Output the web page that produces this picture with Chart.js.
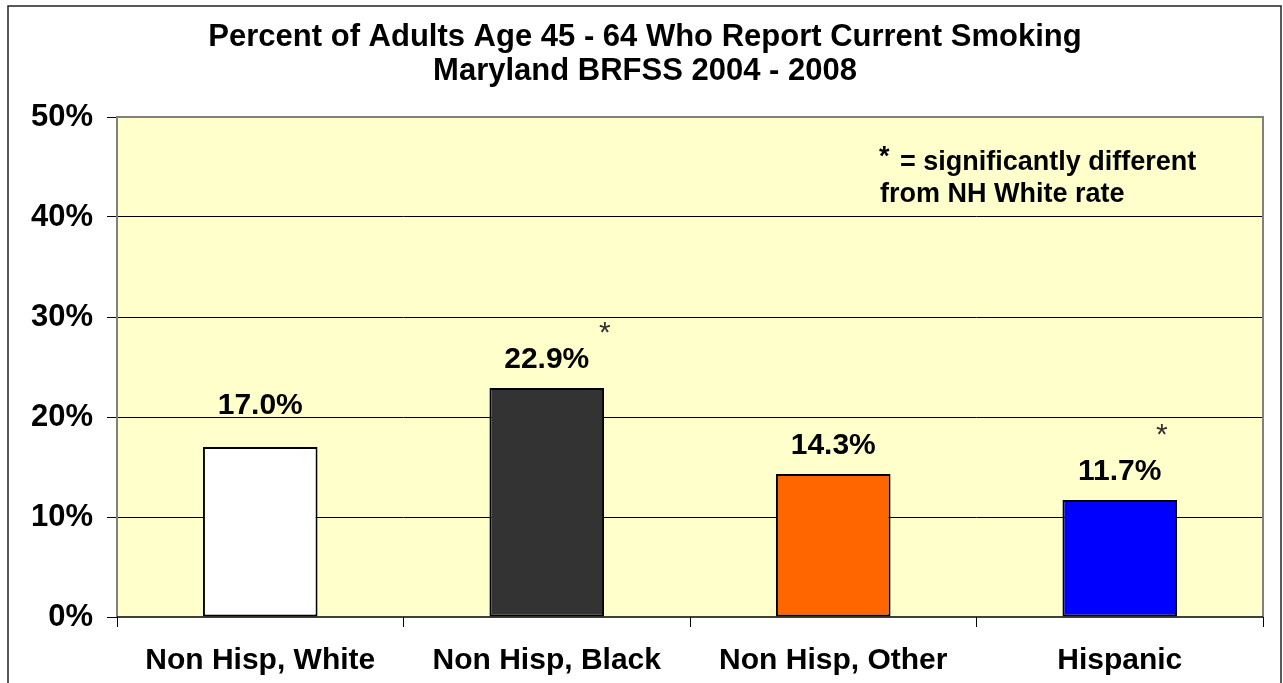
<!DOCTYPE html>
<html>
<head>
<meta charset="utf-8">
<script src="https://cdn.jsdelivr.net/npm/chart.js@4"></script>
<style>
  body { margin: 0; background: #fff; }
  #wrap { width: 1283px; height: 683px; position: relative; }
</style>
</head>
<body>
<div id="wrap"><canvas id="smokingChart"></canvas></div>
<script>
// Dados do gráfico
const categorias = ['Non Hisp, White', 'Non Hisp, Black', 'Non Hisp, Other', 'Hispanic'];
const valores = [17.0, 22.9, 14.3, 11.7];
const significativo = [false, true, false, true];
const coresBarras = ['#FFFFFF', '#333333', '#FF6600', '#0000FF'];
const titulo = ['Percent of Adults Age 45 - 64 Who Report Current Smoking', 'Maryland BRFSS 2004 - 2008'];
const nota = ['= significantly different', 'from NH White rate'];

const FONTE = "'Liberation Sans', Arial, sans-serif";

// moldura, fundo amarelo, título e rótulos
const desenhoExtra = {
    id: 'desenhoExtra',
    beforeDraw(chart) {
        const ctx = chart.ctx;
        const a = chart.chartArea;
        ctx.save();
        ctx.fillStyle = '#fff';
        ctx.fillRect(0, 0, chart.width, chart.height);
        ctx.strokeStyle = '#222';
        ctx.lineWidth = 1.5;
        ctx.strokeRect(8, 6, 1273, 700);
        ctx.fillStyle = '#FFFFCC';
        ctx.fillRect(a.left, a.top, a.right - a.left, a.bottom - a.top);
        ctx.restore();
    },
    afterDatasetsDraw(chart) {
        const ctx = chart.ctx;
        const a = chart.chartArea;
        ctx.save();
        // borda da área do gráfico
        ctx.strokeStyle = '#808080';
        ctx.lineWidth = 2;
        ctx.beginPath();
        ctx.moveTo(a.left, a.bottom);
        ctx.lineTo(a.left, a.top);
        ctx.lineTo(a.right, a.top);
        ctx.lineTo(a.right, a.bottom);
        ctx.stroke();
        ctx.strokeStyle = '#000';
        ctx.lineWidth = 1.5;
        ctx.beginPath();
        ctx.moveTo(a.left, a.bottom);
        ctx.lineTo(a.right, a.bottom);
        ctx.stroke();

        // título
        ctx.fillStyle = '#000';
        ctx.textAlign = 'center';
        ctx.textBaseline = 'alphabetic';
        ctx.font = 'bold 31px ' + FONTE;
        ctx.fillText(titulo[0], 645, 46);
        ctx.fillText(titulo[1], 645, 80);

        // rótulos de valor
        const meta = chart.getDatasetMeta(0);
        const offsetsAst = { 1: [58, 46], 3: [42, 56] };
        meta.data.forEach((bar, i) => {
            ctx.font = 'bold 30px ' + FONTE;
            ctx.fillStyle = '#000';
            ctx.textAlign = 'center';
            ctx.fillText(valores[i].toFixed(1) + '%', bar.x, bar.y - (i === 0 ? 33 : 20));
            if (significativo[i]) {
                const off = offsetsAst[i] || [50, 45];
                ctx.font = '30px ' + FONTE;
                ctx.fillStyle = '#333';
                ctx.fillText('*', bar.x + off[0], bar.y - off[1]);
            }
        });

        // nota
        ctx.fillStyle = '#000';
        ctx.textAlign = 'left';
        ctx.font = 'bold 27px ' + FONTE;
        ctx.fillText('*', 879, 165);
        ctx.fillText(nota[0], 900, 170);
        ctx.fillText(nota[1], 880, 202);
        ctx.restore();
    }
};

new Chart(document.getElementById('smokingChart').getContext('2d'), {
    type: 'bar',
    data: {
        labels: categorias,
        datasets: [{
            data: valores,
            backgroundColor: coresBarras,
            borderColor: '#000',
            borderWidth: 2,
            borderSkipped: false,
            barPercentage: 0.4,
            categoryPercentage: 1.0
        }]
    },
    options: {
        responsive: true,
        maintainAspectRatio: false,
        animation: false,
        layout: { padding: { top: 117, right: 20, left: 0, bottom: 0 } },
        plugins: {
            legend: { display: false },
            title: { display: false },
            tooltip: { enabled: false }
        },
        scales: {
            y: {
                min: 0,
                max: 50,
                afterFit: (s) => { s.width = 117; },
                ticks: {
                    stepSize: 10,
                    padding: 14,
                    color: '#000',
                    font: { family: FONTE, size: 31, weight: 'bold' },
                    callback: (v) => v + '%'
                },
                grid: {
                    color: (c) => (c.tick && c.tick.value > 0 && c.tick.value < 50) ? '#000' : 'rgba(0,0,0,0)',
                    tickColor: '#000',
                    tickLength: 10,
                    lineWidth: 1
                },
                border: { display: false }
            },
            x: {
                afterFit: (s) => { s.height = 66; },
                ticks: {
                    padding: 16,
                    color: '#000',
                    font: { family: FONTE, size: 30, weight: 'bold' }
                },
                grid: {
                    offset: true,
                    drawOnChartArea: false,
                    tickColor: '#000',
                    tickLength: 10
                },
                border: { display: false }
            }
        }
    },
    plugins: [desenhoExtra]
});
</script>
</body>
</html>
